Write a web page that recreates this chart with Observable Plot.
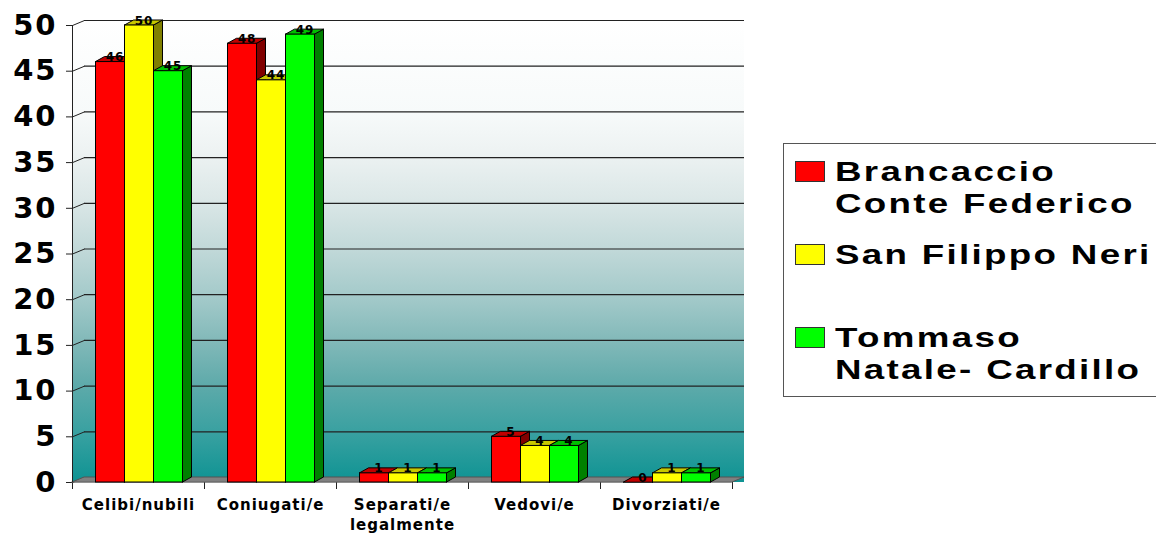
<!DOCTYPE html>
<html><head><meta charset="utf-8">
<script src="https://cdn.jsdelivr.net/npm/d3@7"></script>
<script src="https://cdn.jsdelivr.net/npm/@observablehq/plot@0.6"></script>
<style>
body{margin:0;background:#fff;}
#wrap{position:relative;width:1156px;height:534px;overflow:hidden;background:#fff;}
#legend{position:absolute;left:783px;top:143px;width:400px;height:254px;border:1px solid #555;box-sizing:border-box;background:#fff}
.sw{position:absolute;left:11px;width:30px;height:21px;border:1px solid #333;box-sizing:border-box}
.lbl{position:absolute;left:51px;font:bold 27px "Liberation Sans",Arial,sans-serif;line-height:32px;letter-spacing:1.7px;white-space:nowrap;transform:scaleX(1.36);transform-origin:0 0;color:#000}
svg g[aria-label^="y-axis"] text{font-weight:bold;font-size:29px;font-family:"DejaVu Sans",sans-serif;fill:#000;letter-spacing:2px}
</style>
</head><body>
<div id="wrap"><div id="chart"></div><div id="legend"></div></div>
<script>
// ---- data ----
const categories = ["Celibi/nubili", "Coniugati/e", "Separati/e\nlegalmente", "Vedovi/e", "Divorziati/e"];
const seriesNames = ["Brancaccio\nConte Federico", "San Filippo Neri", "Tommaso\nNatale- Cardillo"];
const brancaccio = [46, 48, 1, 5, 0];
const sanFilippo = [50, 44, 1, 4, 1];
const tommaso = [45, 49, 1, 4, 1];
const yTicks = [0, 5, 10, 15, 20, 25, 30, 35, 40, 45, 50];

// ---- styles ----
const frontColors = ["#ff0000", "#ffff00", "#00ff00"];
const topColors = ["#c00000", "#c8c800", "#00c000"];
const sideColors = ["#800000", "#808000", "#008000"];
const wallStops = [[0, "#ffffff"], [0.2, "#f7fafa"], [0.28, "#eef3f3"], [0.39, "#dbe7e7"], [0.5, "#c0d8d8"],
  [0.61, "#a0c8c8"], [0.7, "#80b8b8"], [0.79, "#5eaaaa"], [0.9, "#36a0a0"], [1, "#0e9393"]];

const seriesValues = [brancaccio, sanFilippo, tommaso];
const W = 1156, H = 534, mL = 72, mR = 424, mT = 25, mB = 52;
const n = categories.length, yMax = 50;
const xPx = n / (W - mL - mR);      // data units per pixel (x)
const yPx = yMax / (H - mT - mB);   // data units per pixel (y)
const barW = 29 * xPx, pad = (1 - 3 * barW) / 2 + 1 * xPx;
const bdx = 9 * xPx, bdy = 5 * yPx, wdx = 12 * xPx, wdy = 5 * yPx;

const bars = [];
categories.forEach((c, i) => seriesValues.forEach((vals, s) => {
  const x1 = i + pad + s * barW;
  bars.push({id: i * 3 + s, s, x1, x2: x1 + barW, v: vals[i]});
}));
const sides = bars.flatMap(b => [
  {id: b.id, s: b.s, x: b.x2, y1: 0, y2: b.v},
  {id: b.id, s: b.s, x: b.x2 + bdx, y1: bdy, y2: b.v + bdy}
]);
const tops = bars.flatMap(b => [
  {id: b.id, s: b.s, y: b.v, x1: b.x1, x2: b.x2},
  {id: b.id, s: b.s, y: b.v + bdy, x1: b.x1 + bdx, x2: b.x2 + bdx}
]);
const wall = [{x1: 0, x2: n + wdx, y1: 0, y2: yMax + wdy}];
const floor = [{y: 0, x1: 0, x2: n}, {y: wdy, x1: wdx, x2: n + wdx}];

const chart = Plot.plot({
  width: W, height: H,
  marginLeft: mL, marginRight: mR, marginTop: mT, marginBottom: mB,
  style: {fontFamily: "DejaVu Sans", fontSize: "15px", color: "#222", background: "transparent", overflow: "visible", letterSpacing: "1px"},
  x: {domain: [0, n], ticks: d3.range(0, n + 1), tickFormat: () => "", tickSize: 7, label: null},
  y: {domain: [0, yMax], ticks: yTicks, tickSize: 6, tickPadding: 9, label: null},
  color: {type: "identity"},
  marks: [
    Plot.rect(wall, {x1: "x1", x2: "x2", y1: "y1", y2: "y2", fill: "url(#wallGrad)"}),
    Plot.ruleY(yTicks, {y: d => d + wdy, x1: () => wdx, x2: () => n + wdx, stroke: "#222", strokeWidth: 1.2}),
    Plot.link(yTicks, {x1: () => 0, y1: d => d, x2: () => wdx, y2: d => d + wdy, stroke: "#222"}),
    Plot.areaX(floor, {y: "y", x1: "x1", x2: "x2", fill: "#808080", stroke: "#555", strokeWidth: 1}),
    Plot.ruleX([0], {y1: () => 0, y2: () => yMax, stroke: "#222"}),
    Plot.areaY(sides, {x: "x", y1: "y1", y2: "y2", z: "id", fill: d => sideColors[d.s], stroke: "#000", strokeWidth: 1}),
    Plot.areaX(tops, {y: "y", x1: "x1", x2: "x2", z: "id", fill: d => topColors[d.s], stroke: "#000", strokeWidth: 1}),
    Plot.rect(bars, {x1: "x1", x2: "x2", y1: () => 0, y2: "v", fill: d => frontColors[d.s], stroke: "#000", strokeWidth: 1}),
    Plot.text(bars, {x: d => (d.x1 + d.x2) / 2 + bdx / 2, y: "v", text: d => String(d.v), lineAnchor: "bottom", dy: -1,
      fontSize: 12, fontWeight: "bold", fontFamily: "DejaVu Sans", fill: "#000"}),
    Plot.text(categories, {x: (d, i) => i + 0.5, y: () => 0, text: d => d, lineAnchor: "top", dy: 14, lineHeight: 1.3,
      fontSize: 15, fontWeight: "bold", fontFamily: "DejaVu Sans", fill: "#000"})
  ]
});
const svgEl = chart.tagName.toLowerCase() === "svg" ? chart : chart.querySelector("svg");
const defs = d3.select(svgEl).insert("defs", ":first-child");
const grad = defs.append("linearGradient").attr("id", "wallGrad").attr("x1", 0).attr("y1", 0).attr("x2", 0).attr("y2", 1);
wallStops.forEach(([o, c]) => grad.append("stop").attr("offset", o).attr("stop-color", c));
document.getElementById("chart").appendChild(chart);

// ---- legend ----
const legend = d3.select("#legend");
const itemTops = [12, 95, 178];
seriesNames.forEach((name, s) => {
  legend.append("div").attr("class", "sw").style("top", (itemTops[s] + 5) + "px").style("background", frontColors[s]);
  name.split("\n").forEach((line, k) => {
    legend.append("div").attr("class", "lbl").style("top", (itemTops[s] + k * 32) + "px").text(line);
  });
});
</script>
</body></html>
